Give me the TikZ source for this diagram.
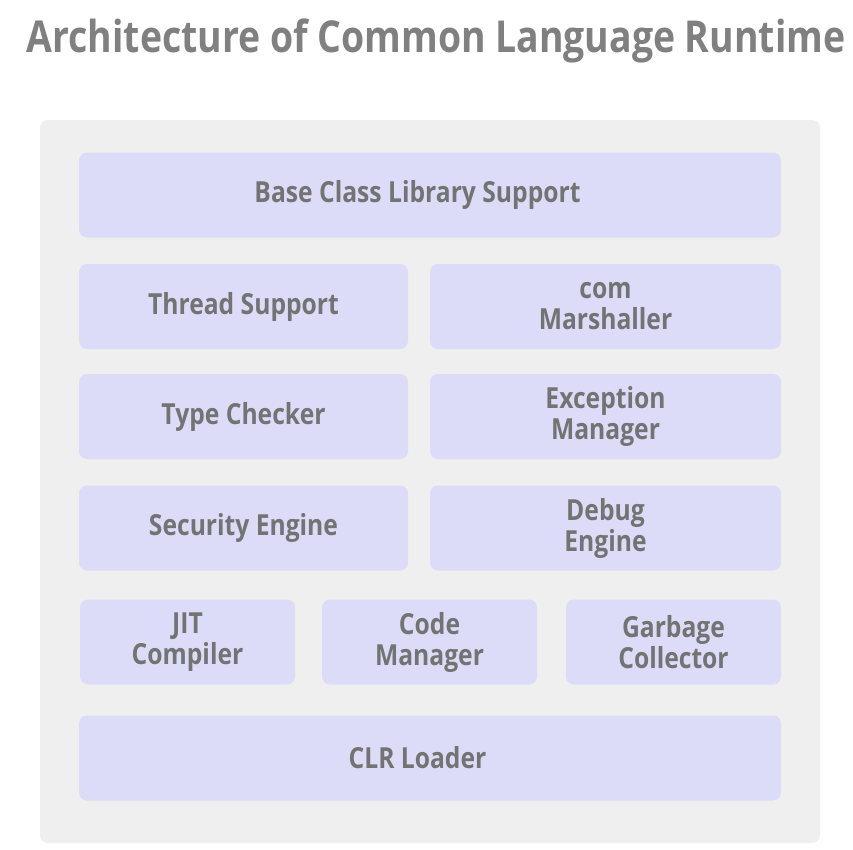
\documentclass[tikz,border=0pt]{standalone}
\usepackage{fontspec}
\setmainfont{Open Sans}[FakeStretch=0.85]
\usetikzlibrary{positioning}
\definecolor{panelgray}{HTML}{EFEFEF}
\definecolor{boxlav}{HTML}{DCDCF8}
\definecolor{textgray}{HTML}{737373}
\definecolor{titlegray}{HTML}{808080}

\begin{document}
\begin{tikzpicture}[x=1pt, y=-1pt,
  blk/.style={fill=boxlav, rounded corners=8pt, text=textgray,
    font=\fontsize{29}{31}\selectfont\bfseries, align=center,
    minimum height=85pt, inner sep=0pt},
  wide/.style={blk, minimum width=702pt},
  half/.style={blk, minimum width=329pt},
  halfr/.style={blk, minimum width=351pt},
  third/.style={blk, minimum width=215pt}]

  \useasboundingbox (0,0) rectangle (853,849);

  % title
  \node[text=titlegray, font=\fontsize{44}{48}\selectfont\bfseries] (title) at (436,41)
    {Architecture of Common Language Runtime};

  % panel
  \fill[panelgray, rounded corners=8pt] (40,120) rectangle (820,843);

  \node[wide] (bcl) at (430,195) {Base Class Library Support\hspace*{25pt}};

  \node[half]  (thread) at (243.5,306.5) {Thread Support};
  \node[halfr] (com)    at (605.5,306.5) {com\\Marshaller};

  \node[half]  (type)   at (243.5,416.5) {Type Checker};
  \node[halfr] (except) at (605.5,416.5) {Exception\\Manager};

  \node[half]  (secur)  at (243.5,528) {Security Engine};
  \node[halfr] (debug)  at (605.5,528) {Debug\\Engine};

  \node[third] (jit)     at (187.5,642) {JIT\\Compiler};
  \node[third] (codemgr) at (429.5,642) {Code\\Manager};
  \node[third] (gc)      at (673.5,642) {Garbage\\Collector};

  \node[wide] (clr) at (430,758) {CLR Loader\hspace*{25pt}};
\end{tikzpicture}
\end{document}
